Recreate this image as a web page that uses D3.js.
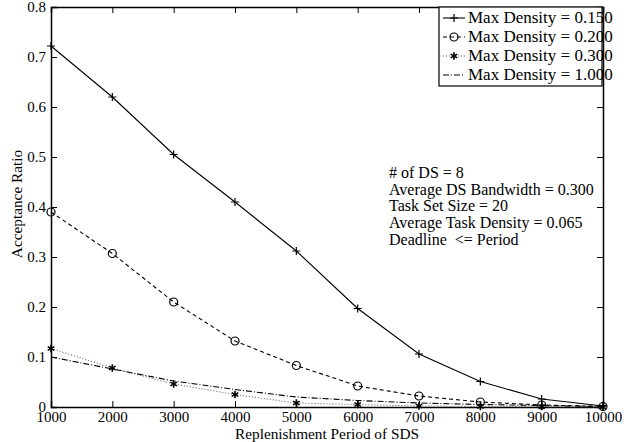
<!DOCTYPE html>
<html>
<head>
<meta charset="utf-8">
<script src="https://cdn.jsdelivr.net/npm/d3@7"></script>
<style>
  body { margin: 0; background: #fff; }
  text { font-family: "Liberation Serif", "Times New Roman", serif; fill: #000; white-space: pre; }
</style>
</head>
<body>
<div id="chart"></div>
<script>
// replenishment periods (x)
var periods = [1000, 2000, 3000, 4000, 5000, 6000, 7000, 8000, 9000, 10000];

// acceptance ratio per max density
var dens150 = [0.722, 0.620, 0.505, 0.410, 0.312, 0.197, 0.106, 0.051, 0.016, 0.002];
var dens200 = [0.390, 0.307, 0.210, 0.132, 0.083, 0.042, 0.022, 0.010, 0.004, 0.001];
var dens300 = [0.117, 0.078, 0.046, 0.025, 0.008, 0.005, 0.002, 0.001, 0.001, 0.000];
var dens1000 = [0.100, 0.076, 0.052, 0.035, 0.020, 0.013, 0.008, 0.005, 0.003, 0.001];

var seriesNames = ["Max Density = 0.150", "Max Density = 0.200", "Max Density = 0.300", "Max Density = 1.000"];

var xTicks = [1000, 2000, 3000, 4000, 5000, 6000, 7000, 8000, 9000, 10000];
var yTicks = [0, 0.1, 0.2, 0.3, 0.4, 0.5, 0.6, 0.7, 0.8];

var notes = ["# of DS = 8", "Average DS Bandwidth = 0.300", "Task Set Size = 20",
             "Average Task Density = 0.065", "Deadline  <= Period"];

var width = 634, height = 442;
var margin = { left: 51, right: 31, top: 7, bottom: 35 };

var svg = d3.select("#chart").append("svg")
  .attr("width", width)
  .attr("height", height);

var x = d3.scaleLinear().domain([1000, 10000]).range([margin.left, width - margin.right]);
var y = d3.scaleLinear().domain([0, 0.8]).range([height - margin.bottom, margin.top]);

var tickLen = 6;

// axes, ticks pointing inward on all four sides
var axBottom = svg.append("g")
  .attr("transform", "translate(0," + y(0) + ")")
  .call(d3.axisBottom(x).tickValues(xTicks).tickSize(-tickLen).tickFormat(d3.format("d")));
var axTop = svg.append("g")
  .attr("transform", "translate(0," + y(0.8) + ")")
  .call(d3.axisTop(x).tickValues(xTicks).tickSize(-tickLen).tickFormat(""));
var axLeft = svg.append("g")
  .attr("transform", "translate(" + x(1000) + ",0)")
  .call(d3.axisLeft(y).tickValues(yTicks).tickSize(-tickLen).tickPadding(5)
    .tickFormat(function (d) { return d === 0 ? "0" : d3.format(".1f")(d); }));
var axRight = svg.append("g")
  .attr("transform", "translate(" + x(10000) + ",0)")
  .call(d3.axisRight(y).tickValues(yTicks).tickSize(-tickLen).tickFormat(""));

[axBottom, axTop, axLeft, axRight].forEach(function (g) {
  g.select(".domain").attr("stroke", "#000").attr("stroke-width", 1.5);
  g.selectAll(".tick line").attr("stroke", "#000").attr("stroke-width", 1);
  g.attr("font-family", "Liberation Serif").attr("font-size", 15);
});
axBottom.selectAll(".tick text").attr("y", 14.5).attr("dy", 0);
axLeft.selectAll(".tick text").attr("dy", "0.3em");

// axis titles
svg.append("text")
  .attr("x", (x(1000) + x(10000)) / 2)
  .attr("y", 439)
  .attr("text-anchor", "middle")
  .attr("font-size", 15.3)
  .text("Replenishment Period of SDS");

svg.append("text")
  .attr("transform", "translate(22,204) rotate(-90)")
  .attr("text-anchor", "middle")
  .attr("font-size", 15.3)
  .text("Acceptance Ratio");

// series
var series = [
  { values: dens150, dash: null, marker: "plus" },
  { values: dens200, dash: "4,3", marker: "circle" },
  { values: dens300, dash: "1,2", marker: "star" },
  { values: dens1000, dash: "6,2,1,2", marker: "none" }
];

var line = d3.line()
  .x(function (d) { return x(d[0]); })
  .y(function (d) { return y(d[1]); });

function drawMarker(g, kind, cx, cy) {
  if (kind === "plus") {
    g.append("path")
      .attr("d", "M" + (cx - 4) + "," + cy + "h8M" + cx + "," + (cy - 4) + "v8")
      .attr("stroke", "#000").attr("stroke-width", 1.2);
  } else if (kind === "circle") {
    g.append("circle")
      .attr("cx", cx).attr("cy", cy).attr("r", 4)
      .attr("fill", "none").attr("stroke", "#000").attr("stroke-width", 1.2);
  } else if (kind === "star") {
    g.append("path")
      .attr("d", d3.symbol().type(d3.symbolAsterisk).size(40)())
      .attr("transform", "translate(" + cx + "," + cy + ")")
      .attr("stroke", "#000").attr("stroke-width", 1.6).attr("fill", "none");
  }
}

series.forEach(function (s) {
  var pts = periods.map(function (p, i) { return [p, s.values[i]]; });
  var g = svg.append("g");
  g.append("path")
    .datum(pts)
    .attr("d", line)
    .attr("fill", "none")
    .attr("stroke", s.marker === "star" ? "#666" : "#000")
    .attr("stroke-width", 1.1)
    .attr("stroke-dasharray", s.dash);
  pts.forEach(function (d) { drawMarker(g, s.marker, x(d[0]), y(d[1])); });
});

// legend
var lg = svg.append("g");
var lgX = 439, lgY = 7, rowH = 19;
lg.append("rect")
  .attr("x", lgX).attr("y", lgY)
  .attr("width", 163).attr("height", 79)
  .attr("fill", "#fff").attr("stroke", "#000").attr("stroke-width", 1.2);
series.forEach(function (s, i) {
  var base = lgY + 16 + i * rowH;
  var cy = base - 5;
  var row = lg.append("g");
  row.append("line")
    .attr("x1", lgX + 4).attr("x2", lgX + 26)
    .attr("y1", cy).attr("y2", cy)
    .attr("stroke", s.marker === "star" ? "#666" : "#000")
    .attr("stroke-width", 1.1)
    .attr("stroke-dasharray", s.dash);
  drawMarker(row, s.marker, lgX + 15, cy);
  row.append("text")
    .attr("x", lgX + 29).attr("y", base)
    .attr("font-size", 17)
    .text(seriesNames[i]);
});

// annotation block
svg.append("g").selectAll("text")
  .data(notes)
  .enter().append("text")
  .attr("x", 389)
  .attr("y", function (d, i) { return 178 + i * 16.7; })
  .attr("font-size", 16)
  .text(function (d) { return d; });
</script>
</body>
</html>
